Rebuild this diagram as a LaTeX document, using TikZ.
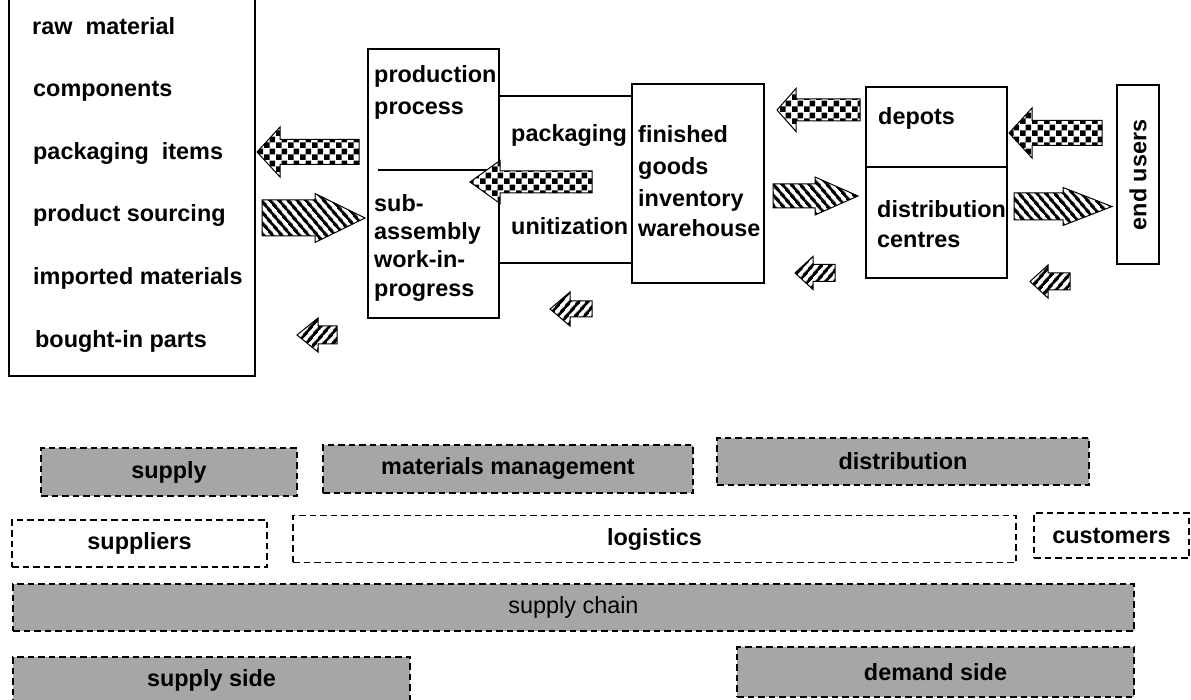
\documentclass[tikz,border=0pt]{standalone}
\usepackage{fontspec}
\setmainfont{Liberation Sans}
\usetikzlibrary{patterns.meta}
\definecolor{bandgray}{gray}{0.65}
\tikzdeclarepattern{
  name=mychecks,
  type=uncolored,
  bottom left={(0pt,0pt)},
  top right={(12pt,12pt)},
  tile size={(12pt,12pt)},
  code={
    \fill (0pt,0pt) rectangle (6pt,6pt);
    \fill (6pt,6pt) rectangle (12pt,12pt);
  }
}
\tikzset{
  box/.style={draw, line width=1.1pt},
  lbl/.style={anchor=base west, inner sep=0pt, font=\fontsize{23.4}{28}\selectfont\bfseries},
  band/.style={draw, line width=1.7pt, dash pattern=on 6.5pt off 4pt, fill=bandgray, inner sep=0pt, font=\fontsize{23.4}{28}\selectfont\bfseries},
  bandw/.style={draw, line width=1.5pt, dash pattern=on 6.5pt off 4pt, inner sep=0pt, font=\fontsize{23.4}{28}\selectfont\bfseries},
  checkarrow/.style={draw, line width=1pt, preaction={fill=white}, pattern=mychecks},
  stripearrow/.style={draw, line width=1pt, preaction={fill=white}, pattern={Lines[angle=-50,distance=6.5pt,line width=3.3pt]}},
  smallarrow/.style={draw, line width=1pt, preaction={fill=white}, pattern={Lines[angle=50,distance=6.5pt,line width=3.2pt]}},
}
% style, tail x, head-back x, tip x, centre y, shaft half height, head half height
\newcommand\blockarr[7]{%
  \draw[#1] (#4,#5) -- (#3,#5-#7) -- (#3,#5-#6) -- (#2,#5-#6) -- (#2,#5+#6) -- (#3,#5+#6) -- (#3,#5+#7) -- cycle;}
\begin{document}
\begin{tikzpicture}[x=1pt,y=-1pt]
\useasboundingbox (0,0) rectangle (1191,700);
\clip (0,0) rectangle (1191,700);
\fill[white] (0,0) rectangle (1191,700);

% left box
\draw[box] (9,-5) rectangle (255,376);
\node[lbl] (t1) at (32,35) {raw\ \ material};
\node[lbl] (t2) at (33,97) {components};
\node[lbl] (t3) at (33,160) {packaging\ \ items};
\node[lbl] (t4) at (33,222) {product sourcing};
\node[lbl] (t5) at (33,285) {imported materials};
\node[lbl] (t6) at (35,348) {bought-in parts};

% production box
\draw[box] (368,49) rectangle (499,318);
\draw[box] (378,170) -- (499,170);
\node[lbl] (p1) at (374,83) {production};
\node[lbl] (p2) at (374,115) {process};
\node[lbl] (s1) at (374,212) {sub-};
\node[lbl] (s2) at (374,240) {assembly};
\node[lbl] (s3) at (374,268) {work-in-};
\node[lbl] (s4) at (374,297) {progress};

% packaging box
\draw[box] (499,96) rectangle (632,263);
\node[lbl] (k1) at (511,142) {packaging};
\node[lbl] (k2) at (511,235) {unitization};

% finished goods box
\draw[box] (632,84) rectangle (764,283);
\node[lbl] (f1) at (638,143) {finished};
\node[lbl] (f2) at (638,175) {goods};
\node[lbl] (f3) at (638,207) {inventory};
\node[lbl] (f4) at (638,237) {warehouse};

% depots / distribution centres
\draw[box] (866,87) rectangle (1007,278);
\draw[box] (866,167) -- (1007,167);
\node[lbl] (d1) at (878,125) {depots};
\node[lbl] (d2) at (877,218) {distribution};
\node[lbl] (d3) at (877,248) {centres};

% end users
\draw[box] (1117,85) rectangle (1159,264);
\node[inner sep=0pt, rotate=90, font=\fontsize{23.4}{28}\selectfont\bfseries] (eu) at (1138,175) {end users};

% arrows
\blockarr{checkarrow}{359}{280}{257}{152}{12.5}{25}
\blockarr{stripearrow}{262}{315}{365}{218}{18}{24.5}
\blockarr{smallarrow}{337}{318}{297}{335}{9}{17}
\blockarr{checkarrow}{592}{500}{470}{182}{11}{21.5}
\blockarr{smallarrow}{592}{570}{550}{309}{8}{17}
\blockarr{checkarrow}{860}{796}{777}{110}{11}{21.5}
\blockarr{stripearrow}{773}{815}{858}{196}{12}{19}
\blockarr{smallarrow}{835}{813}{795}{273}{8.5}{16.5}
\blockarr{checkarrow}{1102}{1032}{1009}{133}{12.5}{25}
\blockarr{stripearrow}{1014}{1063}{1112}{206.5}{13.5}{19}
\blockarr{smallarrow}{1070}{1048}{1030}{281.5}{8.5}{16.5}

% bands
\node[band, minimum width=256pt, minimum height=48pt] (supply) at (169,472) {supply};
\node[band, minimum width=370pt, minimum height=48pt] (mm) at (508,469) {materials management};
\node[band, minimum width=372pt, minimum height=47pt] (distr) at (903,461.5) {distribution};
\node[bandw, minimum width=255pt, minimum height=47pt] (suppliers) at (139.5,543.5) {suppliers};
\node[bandw, minimum width=723pt, minimum height=47pt] (logistics) at (654.5,539) {logistics};
\node[bandw, minimum width=155pt, minimum height=45pt] (customers) at (1111.5,535.5) {customers};
\node[band, minimum width=1121pt, minimum height=47pt, font=\fontsize{23.4}{28}\selectfont] (chain) at (573.5,607.5) {supply chain};
\node[band, minimum width=397pt, minimum height=46pt] (sside) at (211.5,680) {supply side};
\node[band, minimum width=397pt, minimum height=50pt] (dside) at (935.5,672) {demand side};
\end{tikzpicture}
\end{document}
